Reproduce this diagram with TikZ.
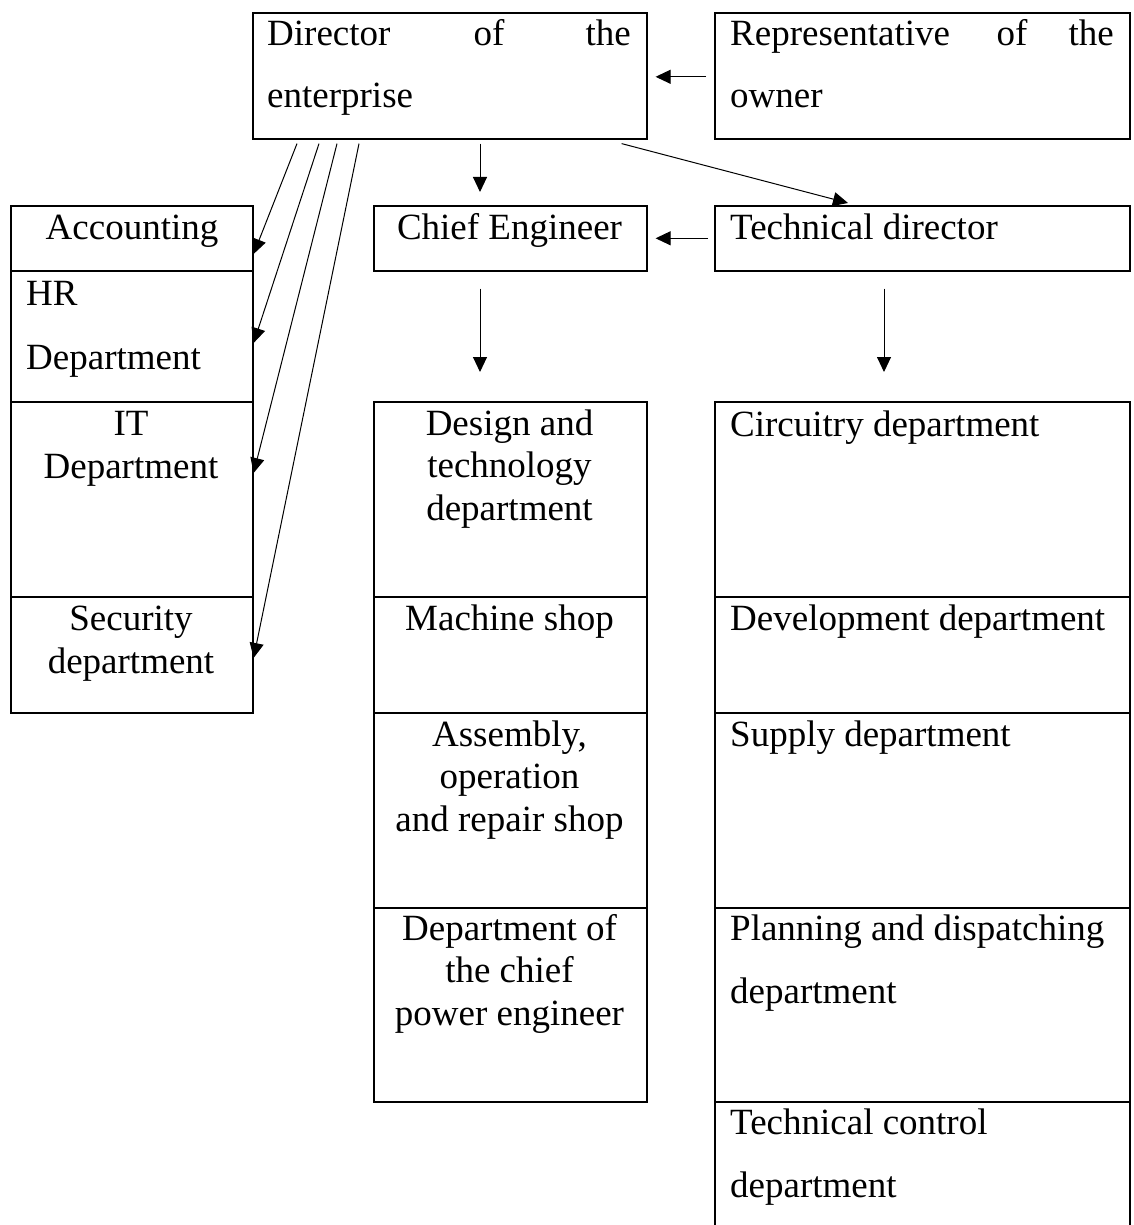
\documentclass[tikz,border=0pt]{standalone}
\usepackage{fontspec}
\setmainfont{Liberation Serif}
\usetikzlibrary{arrows.meta,calc}
\tikzset{
  box/.style={draw, line width=1.6pt, rectangle, inner sep=0pt, anchor=north west},
  txt/.style={font=\fontsize{37}{42.5}\selectfont, inner sep=0pt},
  arr/.style={line width=1pt, -{Triangle[length=15pt,width=14pt]}}
}
\begin{document}
\begin{tikzpicture}[x=1pt,y=-1pt]
\useasboundingbox[fill=white] (0,0) rectangle (1134,1225);
% boxes
\node[box, minimum width=394pt, minimum height=126pt] (dir) at (252,12) {};
\node[box, minimum width=415pt, minimum height=126pt] (rep) at (714,12) {};
\node[box, minimum width=242pt, minimum height=65pt] (acc) at (10,205) {};
\node[box, minimum width=242pt, minimum height=131pt] (hr) at (10,270) {};
\node[box, minimum width=242pt, minimum height=195pt] (it) at (10,401) {};
\node[box, minimum width=242pt, minimum height=116pt] (sec) at (10,596) {};
\node[box, minimum width=273pt, minimum height=65pt] (ce) at (373,205) {};
\node[box, minimum width=415pt, minimum height=65pt] (td) at (714,205) {};
\node[box, minimum width=273pt, minimum height=195pt] (m1) at (373,401) {};
\node[box, minimum width=273pt, minimum height=116pt] (m2) at (373,596) {};
\node[box, minimum width=273pt, minimum height=195pt] (m3) at (373,712) {};
\node[box, minimum width=273pt, minimum height=194pt] (m4) at (373,907) {};
\node[box, minimum width=415pt, minimum height=195pt] (r1) at (714,401) {};
\node[box, minimum width=415pt, minimum height=116pt] (r2) at (714,596) {};
\node[box, minimum width=415pt, minimum height=195pt] (r3) at (714,712) {};
\node[box, minimum width=415pt, minimum height=194pt] (r4) at (714,907) {};
\node[box, minimum width=415pt, minimum height=150pt] (r5) at (714,1101) {};
% texts
\node[txt, anchor=base west] (t1a) at (267,46) {Director};
\node[txt, anchor=base] (t1b) at (489,46) {of};
\node[txt, anchor=base east] (t1c) at (631,46) {the};
\node[txt, anchor=base west] (t1d) at (267,108) {enterprise};
\node[txt, anchor=base west] (t2a) at (730,46) {Representative};
\node[txt, anchor=base] (t2b) at (1012,46) {of};
\node[txt, anchor=base east] (t2c) at (1114,46) {the};
\node[txt, anchor=base west] (t2d) at (730,108) {owner};
\node[txt, anchor=base] (t3) at (132,239) {Accounting};
\node[txt, anchor=base west] (t4a) at (26,305) {HR};
\node[txt, anchor=base west] (t4b) at (26,369) {Department};
\node[txt, anchor=base, align=center] (t5) at (131,478) {IT\\Department};
\node[txt, anchor=base, align=center] (t6) at (131,673) {Security\\department};
\node[txt, anchor=base] (t7) at (509.5,239) {Chief Engineer};
\node[txt, anchor=base west] (t8) at (730,239) {Technical director};
\node[txt, anchor=base, align=center] (t9) at (509.5,520) {Design and\\technology\\department};
\node[txt, anchor=base] (t10) at (509.5,630) {Machine shop};
\node[txt, anchor=base, align=center] (t11) at (509.5,831) {Assembly,\\operation\\and repair shop};
\node[txt, anchor=base, align=center] (t12) at (509.5,1025) {Department of\\the chief\\power engineer};
\node[txt, anchor=base west] (t13) at (730,436) {Circuitry department};
\node[txt, anchor=base west] (t14) at (730,630) {Development department};
\node[txt, anchor=base west] (t15) at (730,746) {Supply department};
\node[txt, anchor=base west] (t16a) at (730,940) {Planning and dispatching};
\node[txt, anchor=base west] (t16b) at (730,1003) {department};
\node[txt, anchor=base west] (t17a) at (730,1134) {Technical control};
\node[txt, anchor=base west] (t17b) at (730,1197) {department};
% connectors
\draw[arr] ($(dir.south west)+(45,4)$) -- ($(acc.north east)+(0,49)$);
\draw[arr] ($(dir.south west)+(67,4)$) -- ($(hr.north east)+(0,73)$);
\draw[arr] ($(dir.south west)+(85,4)$) -- ($(it.north east)+(0,72)$);
\draw[arr] ($(dir.south west)+(107,4)$) -- ($(sec.north east)+(0,62)$);
\draw[arr] ($(dir.south west)+(228,4)$) -- ($(ce.north west)+(107,-13)$);
\draw[arr] ($(dir.south east)+(-26,4)$) -- ($(td.north west)+(134,-2)$);
\draw[arr] ($(rep.west)+(-8,1)$) -- ($(dir.east)+(8,1)$);
\draw[arr] ($(td.west)+(-6,0)$) -- ($(ce.east)+(8,0)$);
\draw[arr] ($(ce.south west)+(107,17)$) -- ($(m1.north west)+(107,-29)$);
\draw[arr] ($(td.south west)+(170,17)$) -- ($(r1.north west)+(170,-29)$);
\end{tikzpicture}
\end{document}
